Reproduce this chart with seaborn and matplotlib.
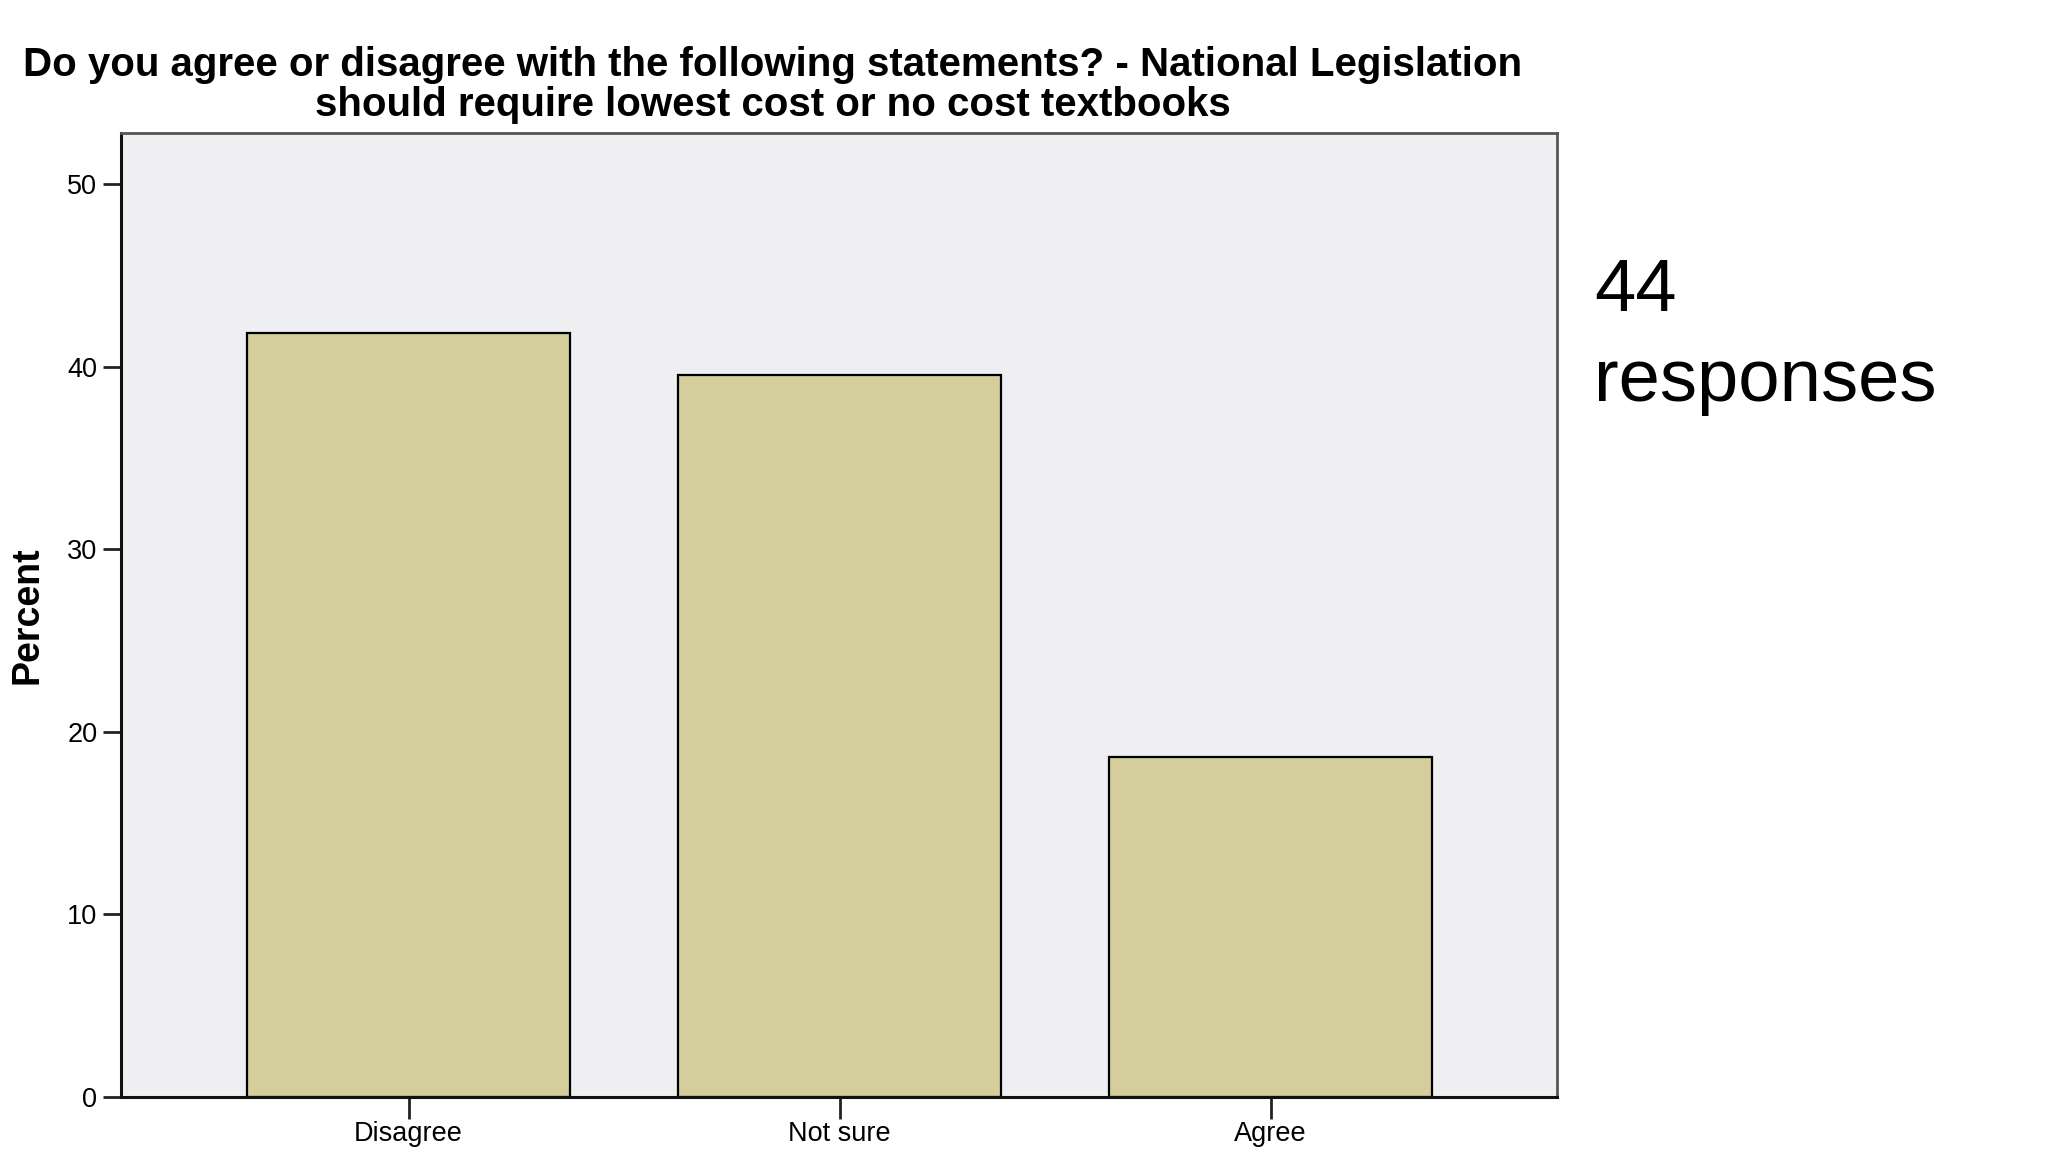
import pandas as pd
import matplotlib
matplotlib.use('Agg')
import matplotlib.pyplot as plt
import seaborn as sns

# data (percent of respondents)
categorias = ['Disagree', 'Not sure', 'Agree']
percentuais = [41.86, 39.53, 18.60]
yticks = [0, 10, 20, 30, 40, 50]

dados = pd.DataFrame({'resposta': categorias, 'percent': percentuais})

sns.set_theme(style='white')
plt.rcParams['font.family'] = ['Liberation Sans', 'DejaVu Sans']
plt.rcParams['text.color'] = 'black'
plt.rcParams['xtick.color'] = 'black'
plt.rcParams['ytick.color'] = 'black'

fig = plt.figure(figsize=(20.48, 11.52), dpi=100)
ax = fig.add_axes([121 / 2048, 55 / 1152, 1436 / 2048, 964 / 1152])
ax.set_facecolor('#efeef0')

sns.barplot(data=dados, x='resposta', y='percent', color='#d3ce9a', width=0.75,
            edgecolor='black', linewidth=1.6, saturation=1, ax=ax)

ax.set_xlim(-0.667, 2.664)
ax.set_ylim(0, 52.8)
ax.set_yticks(yticks)
ax.set_xlabel('')
ax.set_ylabel('')
ax.tick_params(axis='both', which='both', direction='out', length=13, width=2,
               color='#222222', labelsize=19.5, left=True, bottom=True, pad=4)
ax.tick_params(axis='x', length=16, pad=1)

for lado in ['left', 'bottom']:
    ax.spines[lado].set_color('#111111')
    ax.spines[lado].set_linewidth(2.2)
for lado in ['top', 'right']:
    ax.spines[lado].set_color('#555555')
    ax.spines[lado].set_linewidth(2)

fig.text(27 / 2048, 1 - 615 / 1152, 'Percent', rotation=90, fontsize=27,
         fontweight='bold', ha='center', va='center')

fig.text(773 / 2048, 1 - 85 / 1152,
         'Do you agree or disagree with the following statements? - National Legislation\n'
         'should require lowest cost or no cost textbooks',
         fontsize=29, fontweight='bold', ha='center', va='center', linespacing=1.07)

fig.text(1594 / 2048, 1 - 257 / 1152, '44\nresponses', fontsize=53.5,
         ha='left', va='top', linespacing=1.38)

fig.savefig('out.png', dpi=100)
